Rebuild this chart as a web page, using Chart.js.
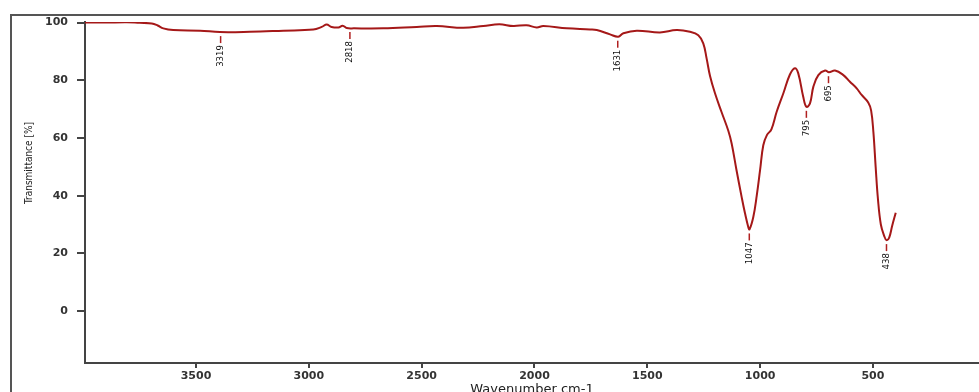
<!DOCTYPE html>
<html lang="en">
<head>
  <meta charset="UTF-8">
  <title>FTIR spectrum</title>
  <script src="https://cdn.jsdelivr.net/npm/chart.js"></script>
  <style>
    html, body { margin: 0; padding: 0; background: #fff; }
    #wrap { width: 979px; height: 392px; }
  </style>
</head>
<body>
  <div id="wrap"><canvas id="ftirChart" width="979" height="392"></canvas></div>

  <script>
    // spectrum (wavenumber cm-1 / transmittance %)
    const wavenumbers = [
      4000, 3900, 3807, 3750, 3696, 3670, 3645, 3601, 3482, 3394, 3261, 3113,
      2980, 2943, 2921, 2899, 2869, 2850, 2832, 2800, 2670, 2522, 2433, 2316,
      2227, 2156, 2094, 2035, 1990, 1961, 1857, 1754, 1724, 1665, 1629, 1606,
      1547, 1444, 1370, 1311, 1274, 1252, 1237, 1222, 1200, 1171, 1141, 1126,
      1105, 1082, 1067, 1052, 1047, 1030, 1015, 1000, 986, 970, 950, 927,
      897, 868, 846, 831, 809, 795, 779, 764, 742, 712, 695, 668,
      631, 602, 572, 550, 521, 508, 498, 488, 478, 465, 450, 440, 428, 415, 399
    ];
    const transmittance = [
      100.0, 100.0, 100.1, 99.9, 99.7, 99.0, 98.0, 97.4, 97.2, 96.7, 96.8, 97.2,
      97.6, 98.5, 99.3, 98.5, 98.3, 98.9, 98.1, 98.0, 98.0, 98.5, 98.8, 98.2,
      98.8, 99.4, 98.8, 99.1, 98.3, 98.8, 98.0, 97.6, 97.4, 95.9, 95.1, 96.3,
      97.2, 96.6, 97.4, 96.8, 95.6, 92.8, 87.5, 81.5, 75.5, 69.0, 62.5, 58.0,
      49.0, 39.6, 33.9, 29.0, 28.3, 32.7, 40.0, 49.0, 57.5, 61.0, 63.0, 69.0,
      75.5, 82.0, 84.2, 82.4, 74.3, 70.8, 72.0, 77.8, 81.8, 83.4, 82.8, 83.4,
      81.8, 79.5, 77.2, 74.9, 72.3, 69.5, 62.0, 50.0, 39.0, 30.0, 26.0, 24.6, 25.5, 29.5, 34.1
    ];

    // peak marks as placed in the picture
    const peakLabels = ['3319', '2818', '1631', '1047', '795', '695', '438'];
    const peakPos = [3391, 2818, 1631, 1048, 795, 697, 440];
    const peakT = [96.7, 98.1, 95.1, 28.3, 70.8, 82.8, 24.6];

    const xTicks = [3500, 3000, 2500, 2000, 1500, 1000, 500];
    const yTicks = [0, 20, 40, 60, 80, 100];

    const tickFont = { family: 'DejaVu Sans', size: 11, weight: 'bold' };
    const narrow = '"Liberation Sans Narrow", "DejaVu Sans Condensed", sans-serif';

    // outer frame + y title
    const framePlugin = {
      id: 'frame',
      beforeDraw(chart) {
        const ctx = chart.ctx;
        ctx.save();
        ctx.fillStyle = '#fff';
        ctx.fillRect(0, 0, chart.width, chart.height);
        ctx.strokeStyle = '#555';
        ctx.lineWidth = 2;
        ctx.beginPath();
        ctx.moveTo(11, chart.height);
        ctx.lineTo(11, 15);
        ctx.lineTo(chart.width, 15);
        ctx.stroke();

        ctx.translate(29, 163);
        ctx.rotate(-Math.PI / 2);
        ctx.fillStyle = '#222';
        ctx.font = '10px ' + narrow;
        ctx.textAlign = 'center';
        ctx.textBaseline = 'middle';
        ctx.fillText('Transmittance [%]', 0, 0);
        ctx.restore();
      }
    };

    const peakPlugin = {
      id: 'peaks',
      afterDatasetsDraw(chart) {
        const { ctx, scales: { x, y } } = chart;
        peakPos.forEach((wn, i) => {
          const px = x.getPixelForValue(wn);
          const py = y.getPixelForValue(peakT[i]);
          ctx.save();
          ctx.strokeStyle = '#b02020';
          ctx.lineWidth = 1.5;
          ctx.beginPath();
          ctx.moveTo(px, py + 4);
          ctx.lineTo(px, py + 11);
          ctx.stroke();
          ctx.translate(px, py + 13);
          ctx.rotate(-Math.PI / 2);
          ctx.fillStyle = '#111';
          ctx.font = '9.5px ' + narrow;
          ctx.textAlign = 'right';
          ctx.textBaseline = 'middle';
          ctx.fillText(peakLabels[i], 0, 0);
          ctx.restore();
        });
      }
    };

    const ctx = document.getElementById('ftirChart').getContext('2d');
    new Chart(ctx, {
      type: 'line',
      data: {
        datasets: [{
          data: wavenumbers.map((wn, i) => ({ x: wn, y: transmittance[i] })),
          borderColor: '#a51818',
          borderWidth: 2,
          pointRadius: 0,
          tension: 0.4,
          fill: false
        }]
      },
      options: {
        responsive: false,
        animation: false,
        layout: { padding: { top: 22, right: 0, left: 0, bottom: 0 } },
        plugins: {
          legend: { display: false },
          tooltip: { enabled: false }
        },
        scales: {
          x: {
            type: 'linear',
            reverse: true,
            min: 30,
            max: 3992,
            afterBuildTicks: s => { s.ticks = xTicks.map(v => ({ value: v })); },
            afterFit: s => { s.height = 29; },
            grid: { drawOnChartArea: false, tickLength: 5, color: '#444', lineWidth: 2 },
            border: { display: true, color: '#444', width: 2 },
            ticks: { color: '#333', font: tickFont, padding: 2, maxRotation: 0, callback: v => String(v) },
            title: {
              display: true,
              text: 'Wavenumber cm-1',
              color: '#222',
              font: { family: 'DejaVu Sans', size: 13 },
              padding: { top: 0, bottom: -5 }
            }
          },
          y: {
            min: -18,
            max: 100.2,
            afterBuildTicks: s => { s.ticks = yTicks.map(v => ({ value: v })); },
            afterFit: s => { s.width = 85; },
            grid: { drawOnChartArea: false, tickLength: 8, color: '#444', lineWidth: 2 },
            border: { display: true, color: '#444', width: 2 },
            ticks: { color: '#333', font: tickFont, padding: 9, callback: v => String(v) }
          }
        }
      },
      plugins: [framePlugin, peakPlugin]
    });
  </script>
</body>
</html>
